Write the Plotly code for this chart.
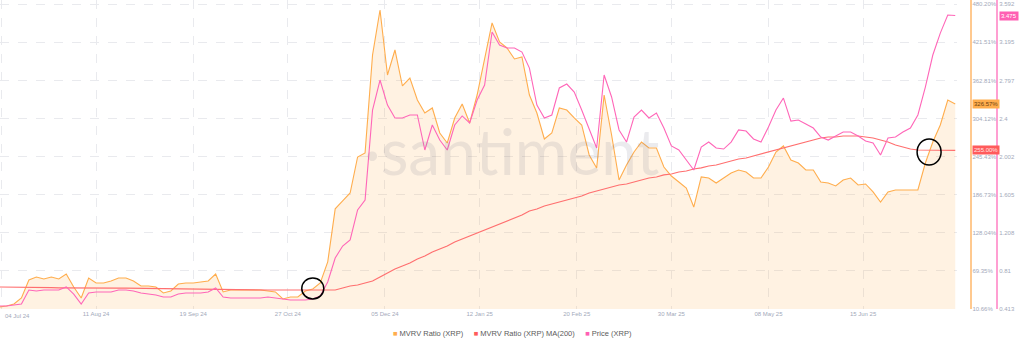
import pandas as pd
import plotly.graph_objects as go

# ---------------- data ----------------
start_date = "2024-07-03"
n_points = 129  # every 3 days, 2024-07-03 .. 2025-07-22
dates = pd.date_range(start_date, periods=n_points, freq="3D")

mvrv = [13.7, 15.3, 18.4, 27.6, 55.4, 60.0, 56.9, 60.0, 56.9, 64.6,
        44.6, 27.6, 58.4, 50.7, 50.7, 53.8, 58.4, 58.4, 53.8, 46.1,
        46.1, 44.6, 35.3, 38.4, 49.2, 50.7, 50.7, 52.3, 53.8, 64.6,
        36.9, 39.9, 39.9, 39.9, 39.9, 39.9, 38.4, 36.9, 26.1, 29.2,
        29.2, 38.4, 41.5, 50.7, 83.1, 165.0, 177.1, 189.4, 244.9, 251.1,
        402.1, 471.4, 371.2, 409.8, 354.3, 366.6, 332.7, 312.7, 320.4, 281.9,
        266.5, 305.0, 326.6, 297.3, 340.4, 394.4, 451.4, 422.1, 412.9, 395.9,
        399.0, 340.4, 312.7, 272.6, 281.9, 320.4, 317.3, 305.0, 294.2, 248.0,
        228.0, 340.4, 278.8, 209.4, 232.6, 252.6, 268.0, 258.8, 258.8, 229.5,
        215.6, 206.4, 197.1, 167.8, 214.1, 212.5, 204.8, 212.5, 220.2, 224.9,
        221.8, 212.5, 212.5, 229.5, 252.6, 261.9, 240.3, 235.6, 224.9, 224.9,
        206.4, 204.8, 200.2, 209.4, 212.5, 201.7, 203.3, 191.0, 175.5, 191.0,
        194.0, 194.0, 194.0, 194.0, 235.6, 268.0, 294.2, 332.7, 326.57]

mvrv_ma200 = [44.6, 44.6, 44.4, 44.2, 44.0, 43.8, 43.6, 43.5, 43.3, 43.1,
              43.0, 43.0, 43.0, 43.0, 43.0, 43.0, 42.8, 42.7, 42.5, 42.4,
              42.3, 42.1, 42.0, 41.8, 41.6, 41.5, 41.3, 41.2, 41.0, 40.9,
              40.7, 40.5, 40.4, 40.2, 40.1, 39.9, 39.9, 39.9, 39.9, 39.9,
              39.9, 39.9, 39.9, 39.9, 39.9, 39.9, 43.0, 46.1, 47.6, 50.7,
              53.8, 60.0, 66.1, 72.3, 76.9, 81.5, 87.7, 92.3, 98.5, 103.1,
              107.7, 113.9, 118.5, 123.1, 127.8, 132.4, 137.0, 141.6, 146.3, 150.9,
              155.5, 161.7, 164.8, 169.4, 172.5, 175.5, 178.6, 181.7, 184.8, 189.4,
              192.5, 195.6, 198.7, 201.7, 203.3, 206.4, 209.4, 212.5, 214.1, 217.2,
              218.7, 221.8, 223.3, 226.4, 228.0, 231.0, 232.6, 235.6, 238.7, 241.8,
              243.3, 246.4, 249.5, 252.6, 255.7, 258.8, 261.9, 264.9, 268.0, 271.1,
              274.2, 275.7, 275.7, 277.2, 277.2, 277.2, 275.7, 274.2, 271.1, 268.0,
              263.4, 260.3, 257.2, 255.7, 255.7, 255.7, 255.7, 255.7, 255.0]

price = [0.444, 0.444, 0.455, 0.465, 0.611, 0.601, 0.611, 0.611, 0.611, 0.643,
         0.569, 0.465, 0.580, 0.590, 0.590, 0.590, 0.611, 0.611, 0.601, 0.580,
         0.569, 0.559, 0.538, 0.538, 0.569, 0.580, 0.580, 0.580, 0.590, 0.632,
         0.538, 0.528, 0.528, 0.528, 0.528, 0.528, 0.538, 0.528, 0.517, 0.507,
         0.507, 0.507, 0.517, 0.549, 0.695, 0.945, 1.070, 1.133, 1.446, 1.550,
         2.489, 2.802, 2.541, 2.406, 2.406, 2.437, 2.437, 2.072, 2.333, 2.176,
         2.072, 2.333, 2.427, 2.354, 2.594, 2.750, 3.303, 3.167, 3.136, 3.136,
         3.094, 2.927, 2.541, 2.406, 2.437, 2.719, 2.760, 2.677, 2.489, 2.281,
         2.093, 2.854, 2.625, 2.281, 2.155, 2.416, 2.489, 2.406, 2.458, 2.301,
         2.114, 2.072, 1.968, 1.863, 2.103, 2.155, 2.093, 2.082, 2.155, 2.281,
         2.270, 2.187, 2.155, 2.312, 2.489, 2.614, 2.374, 2.385, 2.343, 2.301,
         2.207, 2.176, 2.218, 2.260, 2.260, 2.218, 2.166, 2.145, 2.020, 2.197,
         2.207, 2.260, 2.301, 2.437, 2.729, 3.063, 3.292, 3.480, 3.475]

x_tick_dates = ["2024-08-11", "2024-09-19", "2024-10-27", "2024-12-05", "2025-01-12",
                "2025-02-20", "2025-03-30", "2025-05-08", "2025-06-15"]
x_tick_text = ["11 Aug 24", "19 Sep 24", "27 Oct 24", "05 Dec 24", "12 Jan 25",
               "20 Feb 25", "30 Mar 25", "08 May 25", "15 Jun 25"]
x_edge_dates = ["2024-07-04", "2025-07-23"]
x_edge_text = ["04 Jul 24", "23 Jul 25"]

mvrv_ticks = [10.66, 69.35, 128.04, 186.73, 245.43, 304.12, 362.81, 421.51, 480.20]
mvrv_tick_text = ["10.66%", "69.35%", "128.04%", "186.73%", "245.43%",
                  "304.12%", "362.81%", "421.51%", "480.20%"]
price_ticks = [0.413, 0.81, 1.208, 1.605, 2.002, 2.4, 2.797, 3.195, 3.592]
price_tick_text = ["0.413", "0.81", "1.208", "1.605", "2.002", "2.4", "2.797", "3.195", "3.592"]

circle_dates = ["2024-11-06", "2025-07-11 12:00"]
circle_values = [42.3, 252.6]

series_names = ["MVRV Ratio (XRP)", "MVRV Ratio (XRP) MA(200)", "Price (XRP)"]

# ---------------- styling ----------------
C_ORANGE = "#FFAD4D"
C_RED = "#FF6F6F"
C_PINK = "#FF66B8"
TICK_COLOR = "#A3A9BA"
GRID = "#E9EAEE"
FONT = "Liberation Sans, Arial, sans-serif"

fig = go.Figure()
fig.add_trace(go.Scatter(x=dates, y=mvrv, name=series_names[0], mode="lines",
                         line=dict(color=C_ORANGE, width=1.1),
                         fill="tozeroy", fillcolor="rgba(255,173,77,0.16)",
                         yaxis="y", showlegend=False))
fig.add_trace(go.Scatter(x=dates, y=mvrv_ma200, name=series_names[1], mode="lines",
                         line=dict(color=C_RED, width=1.2), yaxis="y", showlegend=False))
fig.add_trace(go.Scatter(x=dates, y=price, name=series_names[2], mode="lines",
                         line=dict(color=C_PINK, width=1.1), yaxis="y2", showlegend=False))

W, H = 1024, 347
plot_right = 957
plot_bottom = 309

fig.update_layout(
    width=W, height=H,
    margin=dict(l=0, r=0, t=0, b=H - plot_bottom),
    paper_bgcolor="white", plot_bgcolor="white",
    font=dict(family=FONT, size=6, color=TICK_COLOR),
    xaxis=dict(domain=[0, plot_right / W], type="date",
               range=["2024-07-03 09:30", "2025-07-22 17:00"],
               tickvals=x_tick_dates + [x_edge_dates[0]],
               ticktext=x_tick_text + [""],
               showgrid=True, gridcolor=GRID, griddash="dash", gridwidth=1,
               showline=False, zeroline=False, ticks="",
               tickfont=dict(size=6, color=TICK_COLOR)),
    yaxis=dict(range=[10.66, 486.8], side="right", anchor="free",
               position=970.5 / W,
               tickvals=mvrv_ticks, ticktext=mvrv_tick_text,
               showgrid=True, gridcolor=GRID, griddash="dash", gridwidth=1,
               showline=True, linecolor="#FFC98F", linewidth=1.5,
               zeroline=False, ticks="", tickfont=dict(size=6, color=TICK_COLOR)),
    yaxis2=dict(range=[0.413, 3.637], side="right", anchor="free", overlaying="y",
                position=997.3 / W,
                tickvals=price_ticks, ticktext=price_tick_text,
                showgrid=False, showline=True, linecolor="#FF9FD2", linewidth=1.5,
                zeroline=False, ticks="", tickfont=dict(size=6, color=TICK_COLOR)),
    showlegend=False,
)

annotations = []
# edge x tick labels
annotations.append(dict(x=x_edge_dates[0], xref="x", y=0, yref="paper", yanchor="top",
                        xanchor="left", xshift=1, yshift=-2, text=x_edge_text[0], showarrow=False,
                        font=dict(size=6, color=TICK_COLOR)))
annotations.append(dict(x=x_edge_dates[1], xref="x", y=0, yref="paper", yanchor="top",
                        xanchor="center", xshift=9, yshift=-2, text=x_edge_text[1], showarrow=False,
                        font=dict(size=6, color=TICK_COLOR)))
# current value boxes
annotations.append(dict(x=972 / W, xref="paper", xanchor="left", y=mvrv[-1], yref="y",
                        text=f"{mvrv[-1]:.2f}%", showarrow=False, bgcolor=C_ORANGE,
                        borderpad=1, font=dict(size=6, color="#6b4210")))
annotations.append(dict(x=972 / W, xref="paper", xanchor="left", y=mvrv_ma200[-1], yref="y",
                        text=f"{mvrv_ma200[-1]:.2f}%", showarrow=False, bgcolor="#FF5B5B",
                        borderpad=1, font=dict(size=6, color="#FFE3E3")))
annotations.append(dict(x=998.5 / W, xref="paper", xanchor="left", y=price[-1], yref="y2",
                        text=f"{price[-1]:.3f}", showarrow=False, bgcolor="#FF5FB3",
                        borderpad=1, font=dict(size=6, color="white")))
# watermark
annotations.append(dict(x=512 / W, xref="paper", y=1 - 150 / plot_bottom, yref="paper",
                        text="·santiment", showarrow=False,
                        font=dict(size=64, family="Lato, Liberation Sans, sans-serif",
                                  color="rgba(120,120,140,0.15)")))
# legend (as text)
legend_colors = [C_ORANGE, "#FF5B5B", "#FF5FB3"]
legend_text = "&nbsp;&nbsp;&nbsp;&nbsp;&nbsp;".join(
    f"<span style='color:{c}'>■</span> {n}" for c, n in zip(legend_colors, series_names))
annotations.append(dict(x=512 / W, xref="paper", y=-(333 - plot_bottom) / plot_bottom,
                        yref="paper", yanchor="middle", xanchor="center",
                        text=legend_text, showarrow=False,
                        font=dict(size=7.5, color="#5A5A5A")))
fig.update_layout(annotations=annotations)

# highlight circles
for d, v, s in zip(circle_dates, circle_values, [(11, 10.5), (12, 13)]):
    fig.add_shape(type="circle", xref="x", yref="y", xsizemode="pixel", ysizemode="pixel",
                  xanchor=d, yanchor=v, x0=-s[0], x1=s[0], y0=-s[1], y1=s[1],
                  line=dict(color="black", width=1.5))

fig.write_html("out.html")
